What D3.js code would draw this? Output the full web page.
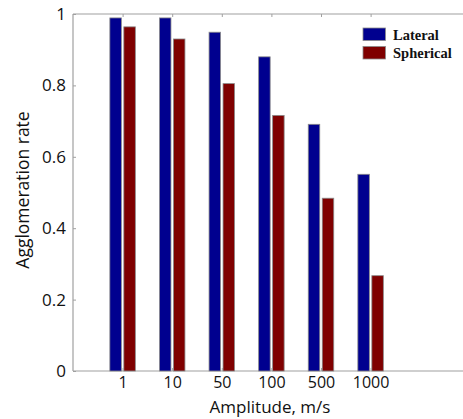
<!DOCTYPE html>
<html>
<head>
<meta charset="utf-8">
<script src="https://cdn.jsdelivr.net/npm/d3@7"></script>
<style>
  html, body { margin: 0; padding: 0; background: #fff; }
  svg { display: block; }
</style>
</head>
<body>
<svg id="chart" width="463" height="419"></svg>
<script>
// Agglomeration rate versus vibration amplitude, two particle models
const categories = ["1", "10", "50", "100", "500", "1000"];
const seriesNames = ["Lateral", "Spherical"];
const lateral = [0.989, 0.989, 0.949, 0.880, 0.691, 0.551];
const spherical = [0.964, 0.930, 0.805, 0.716, 0.484, 0.267];
const yTicks = [0, 0.2, 0.4, 0.6, 0.8, 1];
const colors = ["#00008f", "#7f0000"];

const svg = d3.select("#chart");
const W = 463, H = 419;
const plotLeft = 73, plotTop = 14, plotBottom = 371;
const step = 49.6;

// category positions 1..6 on a linear axis that runs past the right edge
const x = d3.scaleLinear().domain([0, 8]).range([plotLeft, plotLeft + 8 * step]);
const y = d3.scaleLinear().domain([0, 1]).range([plotBottom, plotTop]);

const axisColor = "#a0a0a0";
const font = "'Open Sans', 'Noto Sans', sans-serif";

// frame lines (top and bottom span to the right edge)
svg.append("line").attr("x1", plotLeft).attr("x2", W + 5).attr("y1", plotTop).attr("y2", plotTop)
  .attr("stroke", axisColor).attr("stroke-width", 1.2);
svg.append("line").attr("x1", plotLeft).attr("x2", W + 5).attr("y1", plotBottom).attr("y2", plotBottom)
  .attr("stroke", axisColor).attr("stroke-width", 1.2);
svg.append("line").attr("x1", plotLeft).attr("x2", plotLeft).attr("y1", plotTop).attr("y2", plotBottom)
  .attr("stroke", axisColor).attr("stroke-width", 1.2);

// bars
const barW = 0.232, gap = 0.05;
const series = [lateral, spherical];
series.forEach((vals, s) => {
  svg.append("g").selectAll("rect")
    .data(vals)
    .join("rect")
    .attr("x", (d, i) => x(i + 1) + (s === 0 ? -gap / 2 - barW : gap / 2) * step)
    .attr("width", barW * step)
    .attr("y", d => y(d))
    .attr("height", d => y(0) - y(d))
    .attr("fill", colors[s])
    .attr("stroke", "#8a8a8a")
    .attr("stroke-width", 0.8);
});

// y axis with inward ticks
const yAxis = d3.axisLeft(y).tickValues(yTicks).tickSizeInner(-3).tickSizeOuter(0)
  .tickPadding(7).tickFormat(d => d === 0 ? "0" : d === 1 ? "1" : d3.format(".1f")(d));
const gy = svg.append("g").attr("transform", `translate(${plotLeft},0)`).call(yAxis);
gy.select(".domain").remove();
gy.selectAll(".tick line").attr("stroke", axisColor);
gy.selectAll(".tick text").attr("font-family", font).attr("font-size", 17).attr("fill", "#111");

// x axis labels below, inward ticks on top and bottom
const xAxis = d3.axisBottom(x).tickValues(d3.range(1, categories.length + 1))
  .tickSizeInner(-3).tickSizeOuter(0).tickPadding(6)
  .tickFormat(d => categories[d - 1]);
const gx = svg.append("g").attr("transform", `translate(0,${plotBottom})`).call(xAxis);
gx.select(".domain").remove();
gx.selectAll(".tick line").attr("stroke", axisColor);
gx.selectAll(".tick text").attr("font-family", font).attr("font-size", 16).attr("fill", "#111");

const xTop = d3.axisTop(x).tickValues(d3.range(1, categories.length + 1))
  .tickSizeInner(-3).tickSizeOuter(0).tickFormat("");
const gt = svg.append("g").attr("transform", `translate(0,${plotTop})`).call(xTop);
gt.select(".domain").remove();
gt.selectAll(".tick line").attr("stroke", axisColor);

// axis titles
svg.append("text").attr("x", 270).attr("y", 413).attr("text-anchor", "middle")
  .attr("font-family", font).attr("font-size", 17).attr("fill", "#111")
  .text("Amplitude, m/s");
svg.append("text").attr("transform", "translate(29,190) rotate(-90)").attr("text-anchor", "middle")
  .attr("font-family", font).attr("font-size", 17.5).attr("fill", "#111")
  .text("Agglomeration rate");

// legend
const legend = svg.append("g").attr("transform", "translate(363,28)");
seriesNames.forEach((name, i) => {
  legend.append("rect").attr("x", 0).attr("y", i * 18.5).attr("width", 22.5).attr("height", 12.5)
    .attr("fill", colors[i]).attr("stroke", "#8a8a8a").attr("stroke-width", 0.8);
  legend.append("text").attr("x", 30).attr("y", i * 18.5 + 11.5)
    .attr("font-family", "'Liberation Serif', 'Times New Roman', serif")
    .attr("font-weight", "bold").attr("font-size", 14.5).attr("fill", "#111")
    .text(name);
});
</script>
</body>
</html>
